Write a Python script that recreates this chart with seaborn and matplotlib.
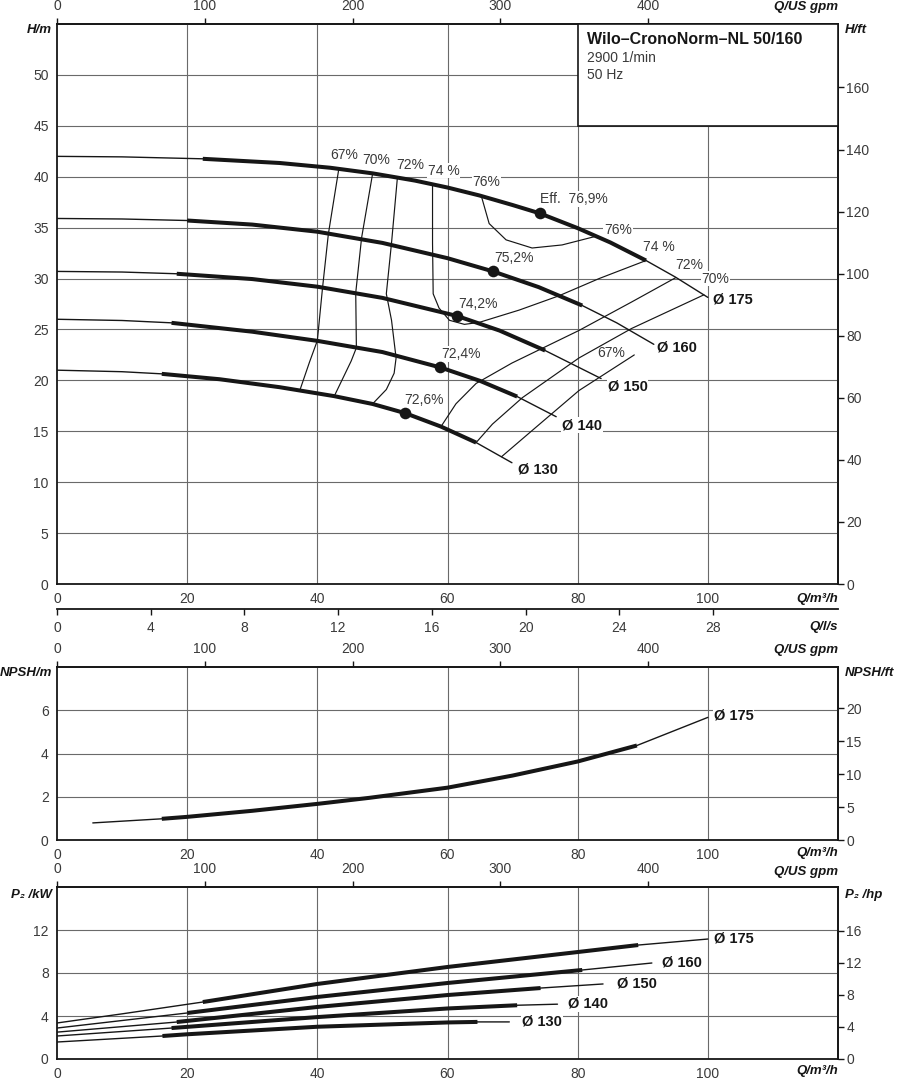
import numpy as np
import pandas as pd
import matplotlib
matplotlib.use("Agg")
import matplotlib.pyplot as plt
import seaborn as sns
from matplotlib.patches import Rectangle

# --- H(Q) curves per impeller diameter (Q in m3/h, H in m) ---
DIAMETERS = ["175", "160", "150", "140", "130"]
H_Q = {
    "175": [0, 10, 22.4, 34.2, 42, 48.5, 55, 60, 64.9, 70, 74.2, 80, 85, 90.5, 95, 100],
    "160": [0, 10, 20, 30, 40, 50, 60, 67, 74, 80.7, 86, 91.7],
    "150": [0, 10, 18.4, 30, 40, 50, 61.5, 68, 75, 83.6],
    "140": [0, 10, 17.6, 30, 40, 50, 58.9, 65, 70.7, 76.7],
    "130": [0, 10, 16.1, 25, 34.2, 42.6, 48.5, 53.5, 59, 64.4, 69.9],
}
H_VAL = {
    "175": [42.0, 41.95, 41.76, 41.35, 40.88, 40.33, 39.62, 38.94, 38.16, 37.22,
            36.4, 34.95, 33.55, 31.77, 30.15, 28.15],
    "160": [35.9, 35.85, 35.7, 35.3, 34.6, 33.5, 32.0, 30.7, 29.16, 27.35, 25.65, 23.54],
    "150": [30.7, 30.64, 30.47, 29.95, 29.2, 28.1, 26.32, 24.89, 22.93, 20.18],
    "140": [26.0, 25.88, 25.65, 24.78, 23.88, 22.78, 21.27, 19.95, 18.41, 16.43],
    "130": [21.0, 20.85, 20.64, 20.11, 19.33, 18.45, 17.68, 16.78, 15.46, 13.89, 11.91],
}
# preferred operating range (drawn thick)
H_THICK = {"175": (22.4, 90.5), "160": (20, 80.7), "150": (18.4, 75.0),
           "140": (17.6, 70.7), "130": (16.1, 64.4)}

# best efficiency points
BEP_Q = [74.2, 67.0, 61.5, 58.9, 53.5]
BEP_H = [36.4, 30.7, 26.32, 21.27, 16.78]
BEP_LABELS = ["Eff.  76,9%", "75,2%", "74,2%", "72,4%", "72,6%"]

# iso-efficiency lines
EFF_LINES = {
    "67L": ([43.3, 41.7, 40.8, 40.0, 38.8, 37.3], [40.77, 34.4, 29.1, 23.9, 21.8, 19.0]),
    "70L": ([48.5, 46.8, 45.9, 46.0, 45.2, 42.6], [40.33, 34.0, 28.6, 23.2, 21.9, 18.45]),
    "72L": ([52.3, 51.4, 50.6, 51.4, 52.1, 51.8, 50.6, 48.5],
            [39.9, 33.5, 28.5, 25.9, 22.2, 20.7, 19.1, 17.7]),
    "74": ([57.7, 57.7, 57.8, 58.7, 60.3, 62.6, 64.9, 71.0, 77.1, 83.3, 90.5],
           [39.25, 33.5, 28.5, 27.1, 25.9, 25.5, 25.7, 26.9, 28.3, 30.0, 31.77]),
    "76": ([65.2, 66.4, 69.0, 73.0, 77.6, 82.8], [38.1, 35.4, 33.8, 33.0, 33.3, 34.15]),
    "72R": ([95.1, 88.3, 80.2, 69.9, 64.4, 61.3, 59.0], [30.1, 27.7, 24.9, 21.7, 19.7, 17.7, 15.46]),
    "70R": ([99.4, 88.3, 80.2, 71.5, 66.9, 64.4], [28.4, 25.1, 22.2, 18.3, 15.7, 13.89]),
    "67R": ([88.7, 80.2, 73.6, 68.3], [22.5, 19.0, 15.4, 12.5]),
}

# NPSH curve (largest impeller)
NPSH_Q = [5.5, 16.1, 20, 30, 40, 48, 60, 70, 80, 89.1, 100]
NPSH_VAL = [0.79, 0.98, 1.07, 1.35, 1.67, 1.95, 2.42, 2.98, 3.63, 4.37, 5.67]
NPSH_THICK = (16.1, 89.1)

# shaft power P2 in kW
P_Q = {
    "175": [0, 10, 22.4, 40, 60, 80, 89.3, 100],
    "160": [0, 20, 40, 60, 80.7, 91.4],
    "150": [0, 18.4, 40, 60, 74.3, 83.9],
    "140": [0, 17.6, 40, 60, 70.7, 76.9],
    "130": [0, 16.2, 20, 40, 60, 64.6, 69.5],
}
P_VAL = {
    "175": [3.35, 4.2, 5.3, 6.98, 8.56, 9.95, 10.6, 11.16],
    "160": [2.88, 4.28, 5.77, 7.07, 8.28, 8.93],
    "150": [2.5, 3.44, 4.84, 5.95, 6.6, 6.98],
    "140": [2.14, 2.88, 3.9, 4.7, 5.0, 5.1],
    "130": [1.58, 2.14, 2.3, 3.0, 3.4, 3.45, 3.45],
}
P_THICK = {"175": (22.4, 89.3), "160": (20, 80.7), "150": (18.4, 74.3),
           "140": (17.6, 70.7), "130": (16.2, 64.6)}

INK = "#161616"
GRID = "#6a6a6a"
TXT = "#3a3a3a"
W_PX, H_PX = 898, 1080
FS = 10

sns.set_theme(style="white")
plt.rcParams["font.family"] = ["Liberation Sans", "DejaVu Sans"]

fig = plt.figure(figsize=(W_PX / 100, H_PX / 100), dpi=100)


def panel(top, bottom):
    return fig.add_axes([57 / W_PX, 1 - bottom / H_PX, 781 / W_PX, (bottom - top) / H_PX])


def ftxt(x, y, s, **kw):
    kw.setdefault("va", "center")
    kw.setdefault("fontsize", 9.5)
    kw.setdefault("color", INK)
    fig.text(x / W_PX, 1 - y / H_PX, s, **kw)


def curve(ax, q, v, rng, thin=1.0, thick=2.9):
    df = pd.DataFrame({"Q": q, "V": v})
    sns.lineplot(data=df, x="Q", y="V", ax=ax, sort=False, estimator=None,
                 color=INK, lw=thin, legend=False, zorder=2)
    part = df[(df.Q >= rng[0]) & (df.Q <= rng[1])]
    sns.lineplot(data=part, x="Q", y="V", ax=ax, sort=False, estimator=None,
                 color=INK, lw=thick, legend=False, zorder=2.1,
                 solid_capstyle="butt")


def style(ax, ymax, yticks, grid_y, fwd, inv, rticks):
    ax.set_xlim(0, 120)
    ax.set_ylim(0, ymax)
    ax.set_xlabel("")
    ax.set_ylabel("")
    ax.set_xticks([0, 20, 40, 60, 80, 100])
    ax.set_yticks(yticks)
    ax.tick_params(axis="both", length=0, labelsize=FS, labelcolor=TXT)
    ax.tick_params(axis="x", pad=6)
    ax.tick_params(axis="y", pad=6)
    ax.grid(False)
    for s in ax.spines.values():
        s.set_color(INK)
        s.set_linewidth(1.3)
    for v in [20, 40, 60, 80, 100]:
        ax.axvline(v, color=GRID, lw=0.8, zorder=0.5)
    for v in grid_y:
        ax.axhline(v, color=GRID, lw=0.8, zorder=0.5)

    top = ax.secondary_xaxis("top", functions=(lambda q: q * 4.4029, lambda g: g / 4.4029))
    top.set_xticks([0, 100, 200, 300, 400])
    top.tick_params(direction="out", length=4, width=1, color=INK,
                    labelsize=FS, labelcolor=TXT, pad=4)

    right = ax.secondary_yaxis("right", functions=(fwd, inv))
    right.set_yticks(rticks)
    right.tick_params(direction="out", length=4, width=1, color=INK,
                      labelsize=FS, labelcolor=TXT, pad=2)
    return top


# ---------------- Q-H panel ----------------
ax_h = panel(24, 584)
for d in DIAMETERS:
    curve(ax_h, H_Q[d], H_VAL[d], H_THICK[d])
for key, (q, h) in EFF_LINES.items():
    sns.lineplot(x=q, y=h, ax=ax_h, sort=False, estimator=None, color=INK,
                 lw=0.85, legend=False, zorder=1.9)
sns.scatterplot(x=BEP_Q, y=BEP_H, ax=ax_h, color=INK, s=70, edgecolor=INK,
                linewidth=0, zorder=3, legend=False)

style(ax_h, 55, range(0, 51, 5), range(5, 51, 5),
      lambda m: m * 3.28084, lambda f: f / 3.28084, range(0, 161, 20))

ls = ax_h.secondary_xaxis(-25 / 560, functions=(lambda q: q / 3.6, lambda l: l * 3.6))
ls.set_xticks(range(0, 29, 4))
ls.tick_params(direction="out", length=4, width=1, color=INK,
               labelsize=FS, labelcolor=TXT, pad=5)
for s in ls.spines.values():
    s.set_linewidth(1.3)
    s.set_color(INK)

# info box
ax_h.add_patch(Rectangle((80, 45), 40, 10, facecolor="white", edgecolor=INK,
                         lw=1.2, zorder=3, clip_on=False))
ax_h.text(81.4, 53.5, "Wilo–CronoNorm–NL 50/160", fontsize=11.5,
          fontweight="bold", color=INK, va="center", zorder=4)
ax_h.text(81.4, 51.7, "2900 1/min", fontsize=FS, color=TXT, va="center", zorder=4)
ax_h.text(81.4, 50.0, "50 Hz", fontsize=FS, color=TXT, va="center", zorder=4)

lab_bg = dict(facecolor="white", edgecolor="none", pad=0.6)
eff_labels = [
    (44.2, 42.1, "67%"), (49.1, 41.6, "70%"), (54.3, 41.2, "72%"),
    (59.4, 40.6, "74 %"), (66.0, 39.5, "76%"),
    (86.2, 34.8, "76%"), (92.5, 33.1, "74 %"), (97.1, 31.3, "72%"),
    (101.2, 30.0, "70%"), (85.1, 22.7, "67%"),
]
for x, y, s in eff_labels:
    ax_h.text(x, y, s, fontsize=FS, color=TXT, ha="center", va="center",
              bbox=lab_bg, zorder=1.8)
bep_label_pos = [(74.2, 37.8), (70.2, 32.0), (64.7, 27.5), (62.0, 22.6), (56.4, 18.1)]
for (x, y), s in zip(bep_label_pos, BEP_LABELS):
    ha = "left" if s.startswith("Eff") else "center"
    ax_h.text(x, y, s, fontsize=FS, color=TXT, ha=ha, va="center",
              bbox=lab_bg, zorder=1.8)

h_label_pos = {"175": (100.8, 27.9), "160": (92.2, 23.2), "150": (84.6, 19.4),
               "140": (77.6, 15.6), "130": (70.8, 11.2)}
for d in DIAMETERS:
    x, y = h_label_pos[d]
    ax_h.text(x, y, "Ø " + d, fontsize=10.5, fontweight="bold", color=INK,
              ha="left", va="center", bbox=lab_bg, zorder=1.8)

# ---------------- NPSH panel ----------------
ax_n = panel(667, 840)
curve(ax_n, NPSH_Q, NPSH_VAL, NPSH_THICK)
style(ax_n, 8, [0, 2, 4, 6], [2, 4, 6],
      lambda m: m * 3.28084, lambda f: f / 3.28084, range(0, 21, 5))
ax_n.text(100.9, 5.75, "Ø 175", fontsize=10.5, fontweight="bold", color=INK,
          ha="left", va="center", bbox=lab_bg, zorder=1.8)

# ---------------- P2 panel ----------------
ax_p = panel(887, 1059)
for d in DIAMETERS:
    curve(ax_p, P_Q[d], P_VAL[d], P_THICK[d])
style(ax_p, 16, [0, 4, 8, 12], [4, 8, 12],
      lambda k: k / 0.7457, lambda hp: hp * 0.7457, range(0, 17, 4))
p_label_pos = {"175": (101.0, 11.2), "160": (93.0, 9.0), "150": (86.0, 7.0),
               "140": (78.5, 5.15), "130": (71.5, 3.45)}
for d in DIAMETERS:
    x, y = p_label_pos[d]
    ax_p.text(x, y, "Ø " + d, fontsize=10.5, fontweight="bold", color=INK,
              ha="left", va="center", bbox=lab_bg, zorder=1.8)

# ---------------- axis captions ----------------
bi = dict(fontweight="bold", style="italic")
ftxt(52, 30, "H/m", ha="right", **bi)
ftxt(845, 30, "H/ft", ha="left", **bi)
ftxt(838, 7, "Q/US gpm", ha="right", **bi)
ftxt(838, 599, "Q/m³/h", ha="right", **bi)
ftxt(838, 627, "Q/l/s", ha="right", **bi)

ftxt(838, 650, "Q/US gpm", ha="right", **bi)
ftxt(52, 673, "NPSH/m", ha="right", **bi)
ftxt(845, 673, "NPSH/ft", ha="left", **bi)
ftxt(838, 853, "Q/m³/h", ha="right", **bi)

ftxt(838, 872, "Q/US gpm", ha="right", **bi)
ftxt(52, 895, "P₂ /kW", ha="right", **bi)
ftxt(845, 895, "P₂ /hp", ha="left", **bi)
ftxt(838, 1071, "Q/m³/h", ha="right", **bi)

fig.savefig("out.png", dpi=100)
